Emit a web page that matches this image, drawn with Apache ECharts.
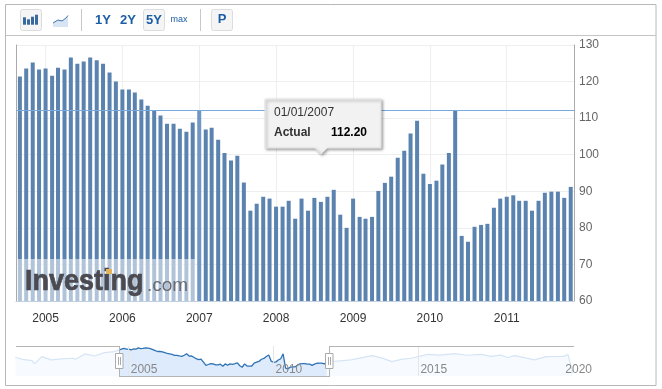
<!DOCTYPE html>
<html><head><meta charset="utf-8">
<style>html,body{margin:0;padding:0;background:#fff}#c{width:662px;height:389px}</style>
<script src="https://cdn.jsdelivr.net/npm/echarts@6/dist/echarts.min.js"></script>
</head><body><div id="c"></div>
<script>
var FONT = '"Liberation Sans", Arial, sans-serif';
// Monthly values, Sep 2004 to Nov 2011
var barStart = [2004, 8];
var barValues = [121.4,123.6,125.2,123.3,123.6,121.6,123.8,123.3,126.6,124.9,125.5,126.6,125.8,124.9,122.5,120,
117.8,117.8,117,115.1,113.4,112.1,110.7,108.5,108.5,107.1,106.3,108.8,112.2,106.9,107.4,104.1,100.5,98.4,99.7,92.4,
84.7,86.6,88.5,88,85.8,85.8,87.4,82.5,88,84.7,88.2,87.1,88.5,90.4,83.6,80,88,83,82.5,83,
90.1,92.3,94,99.2,101.1,105.8,109.3,94.8,92,92.9,97.3,100.5,112.2,77.8,76.2,80.3,80.8,81.1,85.5,88,88.5,88.9,87.4,87.4,84.7,87.4,89.6,89.9,89.9,88.2,91.2];
var navYears = [2005,2010,2015,2020];
var hoverIndex = 28;
var hoverDate = '01/01/2007';
var hoverName = 'Actual';
var hoverValue = 112.20;
// Navigator, outside the selected range
var navBeforeDates = ['2001-02','2001-05','2001-09','2001-10','2002-01','2002-05','2002-09','2003-02','2003-03','2003-07','2003-11','2004-03','2004-07'];
var navBeforeValues = [104,99,96,88,105.6,97.6,100,101.6,99,112,107,115,117.5];
var navAfterDates = ['2012-01','2012-09','2013-06','2013-10','2014-02','2014-06','2014-10','2015-05','2015-10','2016-04','2016-09','2017-03','2017-07','2017-11','2018-02','2018-05','2019-01','2019-06','2020-01','2020-03','2020-05'];
var navAfterValues = [93.5,97.6,107.8,102,93.5,99,101.6,111,109,112.7,108.8,111,106,109,103.5,108,97.6,105.6,106,110.3,66];

function monthDate(i){ return new Date(barStart[0], barStart[1]+i, 1).getTime(); }
function ym(s){ var p=s.split('-'); return new Date(+p[0], +p[1]-1, 1).getTime(); }
function yr(y){ return new Date(y,0,1).getTime(); }
var BAR='#5b83b0', HI='#7096c4';
var barData = barValues.map(function(v,i){
  return {value:[monthDate(i),v], itemStyle:{color:i===hoverIndex?HI:BAR}};
});
var selected = barValues.map(function(v,i){return [monthDate(i),v];});
var before = navBeforeDates.map(function(d,i){return [ym(d),navBeforeValues[i]];}).concat([selected[0]]);
var after = [selected[selected.length-1]].concat(navAfterDates.map(function(d,i){return [ym(d),navAfterValues[i]];}));

function rect(x,y,w,h,fill,stroke,r,z){return {type:'rect',z:z||100,silent:true,shape:{x:x,y:y,width:w,height:h,r:r||0},style:{fill:fill||'transparent',stroke:stroke||null,lineWidth:1}};}
function line(x1,y1,x2,y2,c,z){return {type:'line',z:z||100,silent:true,shape:{x1:x1,y1:y1,x2:x2,y2:y2},style:{stroke:c,lineWidth:1}};}
function text(t,x,y,font,fill,align,z){return {type:'text',z:z||110,silent:true,x:x,y:y,style:{text:t,font:font,fill:fill,textAlign:align||'center',textVerticalAlign:'middle'}};}
var BLUE='#1c5ea6';
var g = [
  rect(5.5,4.5,650.5,381,null,'#b8b8b8'),
  line(6,35.5,656,35.5,'#c4c4c4'),
  rect(20.5,9.5,21,21,'#f5f5f5','#dcdcdc',2),
  rect(23,17.3,3,7.4,'#39699f'),rect(27,19.3,3,5.4,'#39699f'),rect(31,16.7,3,8,'#39699f'),rect(35,14.7,3,10,'#39699f'),
  {type:'polygon',z:100,silent:true,shape:{points:[[53,23],[58,20],[62,21],[66,18],[68,15.5],[68,27],[53,27]]},style:{fill:'#d7e4f3'}},
  {type:'polyline',z:101,silent:true,shape:{points:[[53,23],[58,20],[62,21],[66,18],[68,15.5]]},style:{stroke:'#3f74ad',fill:null,lineWidth:1}},
  line(81.5,9,81.5,31,'#c8c8c8'),
  text('1Y',103,20,'bold 13px '+FONT,BLUE),
  text('2Y',128,20,'bold 13px '+FONT,BLUE),
  rect(143.5,9.5,21,21,'#f5f5f5','#dcdcdc',2),
  text('5Y',154,20,'bold 13px '+FONT,BLUE),
  text('max',179,20,'9px '+FONT,BLUE),
  line(200.5,9,200.5,31,'#c8c8c8'),
  rect(211.5,9.5,21,21,'#f5f5f5','#dcdcdc',2),
  text('P',222,19.5,'bold 13px '+FONT,BLUE),
  // watermark
  rect(17,259,178,42,'rgba(255,255,255,0.52)',null,0,60),
  {type:'text',z:61,silent:true,x:25,y:296,scaleX:0.93,style:{text:'Investing',font:'bold 29px '+FONT,fill:'#4a4a50',stroke:'#4a4a50',lineWidth:0.7,textAlign:'left',textVerticalAlign:'bottom'}},
  {type:'text',z:61,silent:true,x:147,y:295,style:{text:'.com',font:'19px '+FONT,fill:'#6a6a70',textAlign:'left',textVerticalAlign:'bottom'}},
  rect(106,269,6,5,'#e3b45a',null,0,62),
  // tooltip
  {type:'polygon',z:120,silent:true,shape:{points:[[265,99],[381,99],[381,148],[327,148],[321,154],[315,148],[265,148]]},style:{fill:'#f2f2f2',stroke:'#e4e4e4',lineWidth:1,shadowBlur:3,shadowColor:'rgba(0,0,0,0.35)',shadowOffsetX:1.5,shadowOffsetY:1.5}},
  text(hoverDate,274,113,'12px '+FONT,'#333','left',125),
  text(hoverName,274,133,'bold 12px '+FONT,'#333','left',125),
  text(hoverValue.toFixed(2),367,133,'bold 12px '+FONT,'#000','right',125),
  // navigator frame
  line(16,346.5,119.5,346.5,'#b4b4b4'),
  line(329.5,346.5,574,346.5,'#b4b4b4'),
  line(119.5,346,119.5,377,'#b4b4b4'),
  line(329.5,346,329.5,377,'#b4b4b4'),
  line(119.5,376.5,329.5,376.5,'#b4b4b4'),
  rect(115.5,353.5,7.5,15,'#fff','#aaa'),
  line(118.5,357,118.5,365,'#aaa'),line(120.5,357,120.5,365,'#aaa'),
  rect(325.5,353.5,7.5,15,'#fff','#aaa'),
  line(328.5,357,328.5,365,'#aaa'),line(330.5,357,330.5,365,'#aaa')
];

function yearOnly(v){
  var d=new Date(v);
  return (d.getMonth()===0&&d.getDate()===1)?String(d.getFullYear()):'';
}
var chart = echarts.init(document.getElementById('c'),null,{renderer:'canvas'});
chart.setOption({
  animation:false,
  textStyle:{fontFamily:FONT},
  graphic:g,
  grid:[
    {left:16,width:558,top:45,height:256},
    {left:16,width:558,top:346,height:30}
  ],
  xAxis:[
    {type:'time',gridIndex:0,min:new Date(2004,7,23).getTime(),max:new Date(2011,10,7).getTime(),splitNumber:7,
     axisLine:{show:true,lineStyle:{color:'#c0d0e0'}},axisTick:{show:false},
     splitLine:{show:true,lineStyle:{color:'#eeeeee'}},minorSplitLine:{show:false},
     axisLabel:{margin:12,color:'#333',fontSize:12,fontFamily:FONT,hideOverlap:false,showMinLabel:false,showMaxLabel:false,formatter:yearOnly}},
    {type:'time',gridIndex:1,z:5,min:new Date(2001,1,10).getTime(),max:new Date(2020,4,15).getTime(),splitNumber:19,
     axisLine:{show:false},axisTick:{show:false},
     splitLine:{show:false},
     axisLabel:{inside:true,margin:0,align:'left',padding:[0,0,0,2],color:'#888',fontSize:12,fontFamily:FONT,hideOverlap:false,showMinLabel:false,showMaxLabel:false,
       formatter:function(v){var s=yearOnly(v);return s&&navYears.indexOf(+s)>=0?s:'';}}}
  ],
  yAxis:[
    {type:'value',gridIndex:0,position:'right',min:60,max:130,interval:10,
     axisLine:{show:true,lineStyle:{color:'#aaaaaa'}},axisTick:{show:false},
     splitLine:{show:true,lineStyle:{color:'#eeeeee'}},
     axisLabel:{margin:5,color:'#666',fontSize:12,fontFamily:FONT,align:'left',padding:[3,0,0,0]}},
    {type:'value',gridIndex:0,position:'left',min:60,max:130,interval:10,
     axisLine:{show:true,lineStyle:{color:'#aaaaaa'}},axisTick:{show:false},splitLine:{show:false},axisLabel:{show:false}},
    {type:'value',gridIndex:1,min:59,max:131,show:false,splitLine:{show:false}}
  ],
  series:[
    {type:'bar',xAxisIndex:0,yAxisIndex:0,barWidth:4,data:barData,z:2,
     markLine:{silent:true,symbol:'none',animation:false,label:{show:false},lineStyle:{color:'#7aa9dc',width:1,type:'solid'},
       data:[{yAxis:hoverValue}]}},
    {type:'line',xAxisIndex:1,yAxisIndex:2,data:before,showSymbol:false,lineStyle:{color:'#d6e5f5',width:1.2},areaStyle:{color:'#f3f8fe'},z:2},
    {type:'line',xAxisIndex:1,yAxisIndex:2,data:after,showSymbol:false,lineStyle:{color:'#d6e5f5',width:1.2},areaStyle:{color:'#f3f8fe'},z:2},
    {type:'line',xAxisIndex:1,yAxisIndex:2,data:selected,showSymbol:false,lineStyle:{color:'#2f73b5',width:1.3},areaStyle:{color:'#cfe3fb'},z:3,
     markLine:{silent:true,symbol:'none',animation:false,label:{show:false},lineStyle:{color:'#e6e6e6',width:1,type:'solid'},
       data:navYears.slice(0,3).map(function(y){return {xAxis:yr(y)};})}}
  ]
});
</script></body></html>
